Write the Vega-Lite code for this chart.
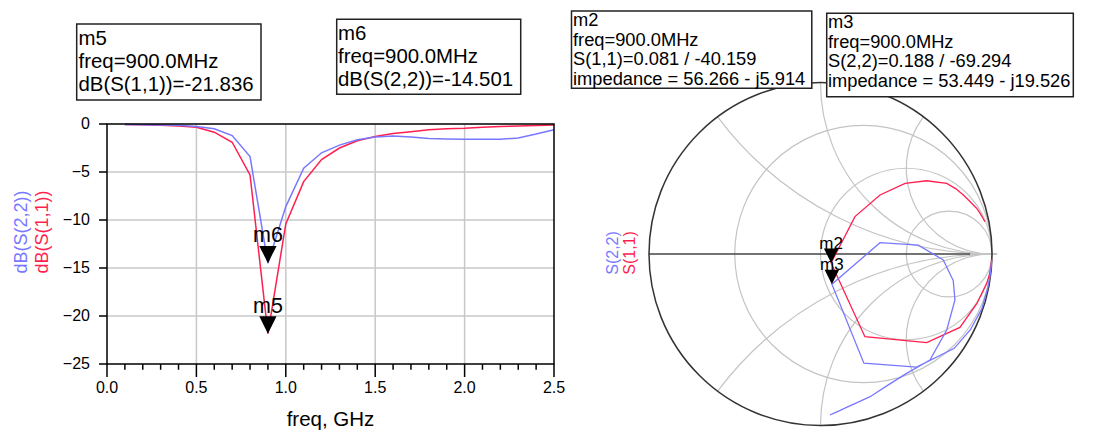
{
  "$schema": "https://vega.github.io/schema/vega-lite/v6.json",
  "width": 1103,
  "height": 433,
  "padding": 0,
  "autosize": {"type": "none"},
  "background": "white",
  "config": {"view": {"stroke": null}, "font": "Liberation Sans"},
  "datasets": {
    "traces": [
      {"t":"S11","f":0.1,"db":-0.05,"re":0.998,"im":-0.03},
      {"t":"S11","f":0.2,"db":-0.08,"re":0.994,"im":-0.07},
      {"t":"S11","f":0.3,"db":-0.12,"re":0.985,"im":-0.12},
      {"t":"S11","f":0.4,"db":-0.2,"re":0.969,"im":-0.171},
      {"t":"S11","f":0.5,"db":-0.35,"re":0.911,"im":-0.29},
      {"t":"S11","f":0.6,"db":-0.85,"re":0.813,"im":-0.428},
      {"t":"S11","f":0.7,"db":-1.9,"re":0.619,"im":-0.517},
      {"t":"S11","f":0.8,"db":-5.3,"re":0.259,"im":-0.482},
      {"t":"S11","f":0.9,"db":-21.836,"re":0.0619,"im":-0.0523},
      {"t":"S11","f":1.0,"db":-10.4,"re":0.201,"im":0.218},
      {"t":"S11","f":1.1,"db":-6.0,"re":0.347,"im":0.344},
      {"t":"S11","f":1.2,"db":-3.7,"re":0.493,"im":0.412},
      {"t":"S11","f":1.3,"db":-2.5,"re":0.619,"im":0.427},
      {"t":"S11","f":1.4,"db":-1.75,"re":0.736,"im":0.412},
      {"t":"S11","f":1.5,"db":-1.3,"re":0.79,"im":0.38},
      {"t":"S11","f":1.6,"db":-1.0,"re":0.833,"im":0.344},
      {"t":"S11","f":1.7,"db":-0.8,"re":0.86,"im":0.318},
      {"t":"S11","f":1.8,"db":-0.6,"re":0.88,"im":0.297},
      {"t":"S11","f":1.9,"db":-0.5,"re":0.897,"im":0.28},
      {"t":"S11","f":2.0,"db":-0.45,"re":0.911,"im":0.266},
      {"t":"S11","f":2.1,"db":-0.35,"re":0.925,"im":0.245},
      {"t":"S11","f":2.2,"db":-0.25,"re":0.938,"im":0.225},
      {"t":"S11","f":2.3,"db":-0.2,"re":0.948,"im":0.207},
      {"t":"S11","f":2.4,"db":-0.15,"re":0.955,"im":0.195},
      {"t":"S11","f":2.5,"db":-0.1,"re":0.959,"im":0.188},
      {"t":"S22","f":0.1,"db":-0.05,"re":0.998,"im":-0.04},
      {"t":"S22","f":0.2,"db":-0.07,"re":0.99,"im":-0.12},
      {"t":"S22","f":0.3,"db":-0.1,"re":0.975,"im":-0.2},
      {"t":"S22","f":0.4,"db":-0.12,"re":0.94,"im":-0.32},
      {"t":"S22","f":0.5,"db":-0.25,"re":0.875,"im":-0.44},
      {"t":"S22","f":0.6,"db":-0.5,"re":0.78,"im":-0.55},
      {"t":"S22","f":0.7,"db":-1.2,"re":0.56,"im":-0.66},
      {"t":"S22","f":0.8,"db":-3.4,"re":0.253,"im":-0.637},
      {"t":"S22","f":0.9,"db":-14.501,"re":0.0665,"im":-0.1759},
      {"t":"S22","f":1.0,"db":-8.6,"re":0.347,"im":0.066},
      {"t":"S22","f":1.1,"db":-4.6,"re":0.57,"im":0.052},
      {"t":"S22","f":1.2,"db":-3.0,"re":0.716,"im":-0.035},
      {"t":"S22","f":1.3,"db":-2.2,"re":0.774,"im":-0.155},
      {"t":"S22","f":1.4,"db":-1.65,"re":0.784,"im":-0.268},
      {"t":"S22","f":1.5,"db":-1.35,"re":0.736,"im":-0.443},
      {"t":"S22","f":1.6,"db":-1.25,"re":0.638,"im":-0.618},
      {"t":"S22","f":1.7,"db":-1.35,"re":0.502,"im":-0.696},
      {"t":"S22","f":1.8,"db":-1.5,"re":0.4,"im":-0.76},
      {"t":"S22","f":1.9,"db":-1.55,"re":0.289,"im":-0.832},
      {"t":"S22","f":2.0,"db":-1.6,"re":0.245,"im":-0.852},
      {"t":"S22","f":2.1,"db":-1.6,"re":0.2,"im":-0.872},
      {"t":"S22","f":2.2,"db":-1.6,"re":0.155,"im":-0.893},
      {"t":"S22","f":2.3,"db":-1.45,"re":0.115,"im":-0.912},
      {"t":"S22","f":2.4,"db":-1.05,"re":0.082,"im":-0.926},
      {"t":"S22","f":2.5,"db":-0.6,"re":0.055,"im":-0.939}
    ],
    "markers": [
      {"t":"S11","f":0.9,"db":-21.836,"re":0.0619,"im":-0.0523,"lab":"m5","slab":"m2"},
      {"t":"S22","f":0.9,"db":-14.501,"re":0.0665,"im":-0.1759,"lab":"m6","slab":"m3"}
    ],
    "gridx": [{"v":0.5},{"v":1.0},{"v":1.5},{"v":2.0}],
    "gridy": [{"v":-5},{"v":-10},{"v":-15},{"v":-20}],
    "xmajor": [{"v":0},{"v":0.5},{"v":1.0},{"v":1.5},{"v":2.0},{"v":2.5}],
    "xminor": [{"v":0.1},{"v":0.2},{"v":0.3},{"v":0.4},{"v":0.6},{"v":0.7},{"v":0.8},{"v":0.9},{"v":1.1},{"v":1.2},{"v":1.3},{"v":1.4},{"v":1.6},{"v":1.7},{"v":1.8},{"v":1.9},{"v":2.1},{"v":2.2},{"v":2.3},{"v":2.4}],
    "yticks": [{"v":-25},{"v":-20},{"v":-15},{"v":-10},{"v":-5},{"v":0}],
    "smithgrid": [
      {"cx":0.25,"cy":0,"rad":0.75,"t1":0,"t2":6.2832},
      {"cx":0.5,"cy":0,"rad":0.5,"t1":0,"t2":6.2832},
      {"cx":0.75,"cy":0,"rad":0.25,"t1":0,"t2":6.2832},
      {"cx":1,"cy":2,"rad":2,"t1":-3.1416,"t2":-2.2143},
      {"cx":1,"cy":1,"rad":1,"t1":-3.1416,"t2":-1.5708},
      {"cx":1,"cy":0.5,"rad":0.5,"t1":-3.1416,"t2":-0.9273},
      {"cx":1,"cy":-2,"rad":2,"t1":-0.9273,"t2":0},
      {"cx":1,"cy":-1,"rad":1,"t1":-1.5708,"t2":0},
      {"cx":1,"cy":-0.5,"rad":0.5,"t1":-2.2143,"t2":0}
    ],
    "outer": [{"cx":0,"cy":0,"rad":1,"t1":0,"t2":6.2832}]
  },
  "layer": [
    {
      "layer": [
        {
          "data": {"name": "gridx"},
          "mark": {"type": "rule", "color": "#c8c8c8", "strokeWidth": 1.5},
          "encoding": {
            "x": {"field": "v", "type": "quantitative", "scale": {"domain":[0,2.5],"range":[107,554],"nice":false,"zero":false}, "axis": null},
            "y": {"datum": -25, "scale": {"domain":[-25,0],"range":[364,124],"nice":false,"zero":false}, "axis": null},
            "y2": {"datum": 0}
          }
        },
        {
          "data": {"name": "gridy"},
          "mark": {"type": "rule", "color": "#c8c8c8", "strokeWidth": 1.5},
          "encoding": {
            "y": {"field": "v", "type": "quantitative", "scale": {"domain":[-25,0],"range":[364,124],"nice":false,"zero":false}, "axis": null},
            "x": {"datum": 0, "scale": {"domain":[0,2.5],"range":[107,554],"nice":false,"zero":false}, "axis": null},
            "x2": {"datum": 2.5}
          }
        },
        {
          "data": {"name": "xmajor"},
          "mark": {"type": "rule", "color": "black", "strokeWidth": 1.5},
          "encoding": {
            "x": {"field": "v", "type": "quantitative", "scale": {"domain":[0,2.5],"range":[107,554],"nice":false,"zero":false}, "axis": null},
            "y": {"datum": -25, "scale": {"domain":[-25,0],"range":[364,124],"nice":false,"zero":false}, "axis": null},
            "y2": {"datum": -26.354}
          }
        },
        {
          "data": {"name": "xminor"},
          "mark": {"type": "rule", "color": "black", "strokeWidth": 1.5},
          "encoding": {
            "x": {"field": "v", "type": "quantitative", "scale": {"domain":[0,2.5],"range":[107,554],"nice":false,"zero":false}, "axis": null},
            "y": {"datum": -25, "scale": {"domain":[-25,0],"range":[364,124],"nice":false,"zero":false}, "axis": null},
            "y2": {"datum": -25.6}
          }
        },
        {
          "data": {"name": "xmajor"},
          "mark": {"type": "text", "fontSize": 16, "color": "black", "align": "center", "baseline": "middle", "dy": 23.5},
          "encoding": {
            "x": {"field": "v", "type": "quantitative", "scale": {"domain":[0,2.5],"range":[107,554],"nice":false,"zero":false}, "axis": null},
            "y": {"datum": -25, "scale": {"domain":[-25,0],"range":[364,124],"nice":false,"zero":false}, "axis": null},
            "text": {"field": "v", "type": "quantitative", "format": ".1f"}
          }
        },
        {
          "data": {"name": "yticks"},
          "mark": {"type": "rule", "color": "black", "strokeWidth": 1.5},
          "encoding": {
            "y": {"field": "v", "type": "quantitative", "scale": {"domain":[-25,0],"range":[364,124],"nice":false,"zero":false}, "axis": null},
            "x": {"datum": 0, "scale": {"domain":[0,2.5],"range":[107,554],"nice":false,"zero":false}, "axis": null},
            "x2": {"datum": -0.0447}
          }
        },
        {
          "data": {"name": "yticks"},
          "mark": {"type": "text", "fontSize": 16, "color": "black", "align": "right", "baseline": "middle", "dx": -17},
          "encoding": {
            "y": {"field": "v", "type": "quantitative", "scale": {"domain":[-25,0],"range":[364,124],"nice":false,"zero":false}, "axis": null},
            "x": {"datum": 0, "scale": {"domain":[0,2.5],"range":[107,554],"nice":false,"zero":false}, "axis": null},
            "text": {"field": "v", "type": "quantitative", "format": "d"}
          }
        },
        {
          "data": {"values": [{}]},
          "mark": {"type": "text", "fontSize": 20.5, "color": "black", "align": "center", "baseline": "middle", "dy": 56},
          "encoding": {
            "x": {"datum": 1.25, "scale": {"domain":[0,2.5],"range":[107,554],"nice":false,"zero":false}, "axis": null},
            "y": {"datum": -25, "scale": {"domain":[-25,0],"range":[364,124],"nice":false,"zero":false}, "axis": null},
            "text": {"value": "freq, GHz"}
          }
        },
        {
          "data": {"name": "traces"},
          "mark": {"type": "line", "strokeWidth": 1.5},
          "encoding": {
            "x": {"field": "f", "type": "quantitative", "scale": {"domain":[0,2.5],"range":[107,554],"nice":false,"zero":false}, "axis": null},
            "y": {"field": "db", "type": "quantitative", "scale": {"domain":[-25,0],"range":[364,124],"nice":false,"zero":false}, "axis": null},
            "color": {"field": "t", "type": "nominal", "scale": {"domain":["S11","S22"],"range":["#ff1f4f","#7878ff"]}, "legend": null}
          }
        },
        {
          "data": {"values": [{}]},
          "mark": {"type": "rect", "fill": "transparent", "stroke": "black", "strokeWidth": 1.5},
          "encoding": {
            "x": {"datum": 0, "scale": {"domain":[0,2.5],"range":[107,554],"nice":false,"zero":false}, "axis": null},
            "x2": {"datum": 2.5},
            "y": {"datum": -25, "scale": {"domain":[-25,0],"range":[364,124],"nice":false,"zero":false}, "axis": null},
            "y2": {"datum": 0}
          }
        },
        {
          "data": {"name": "markers"},
          "mark": {"type": "point", "shape": "M-1,-2L1,-2L0,0Z", "size": 300, "filled": true, "color": "black", "opacity": 1},
          "encoding": {
            "x": {"field": "f", "type": "quantitative", "scale": {"domain":[0,2.5],"range":[107,554],"nice":false,"zero":false}, "axis": null},
            "y": {"field": "db", "type": "quantitative", "scale": {"domain":[-25,0],"range":[364,124],"nice":false,"zero":false}, "axis": null}
          }
        },
        {
          "data": {"name": "markers"},
          "mark": {"type": "text", "fontSize": 21.5, "color": "black", "align": "center", "baseline": "middle", "dy": -27},
          "encoding": {
            "x": {"field": "f", "type": "quantitative", "scale": {"domain":[0,2.5],"range":[107,554],"nice":false,"zero":false}, "axis": null},
            "y": {"field": "db", "type": "quantitative", "scale": {"domain":[-25,0],"range":[364,124],"nice":false,"zero":false}, "axis": null},
            "text": {"field": "lab"}
          }
        },
        {
          "data": {"values": [{}]},
          "mark": {"type": "rect", "fill": "white", "stroke": "#222222", "strokeWidth": 1.5},
          "encoding": {
            "x": {"datum": -0.1695, "scale": {"domain":[0,2.5],"range":[107,554],"nice":false,"zero":false}, "axis": null},
            "x2": {"datum": 0.8613},
            "y": {"datum": 10.417, "scale": {"domain":[-25,0],"range":[364,124],"nice":false,"zero":false}, "axis": null},
            "y2": {"datum": 2.5}
          }
        },
        {
          "data": {"values": [{}]},
          "mark": {"type": "text", "fontSize": 20.4, "color": "black", "align": "left", "baseline": "top", "lineHeight": 23},
          "encoding": {
            "x": {"datum": -0.1594, "scale": {"domain":[0,2.5],"range":[107,554],"nice":false,"zero":false}, "axis": null},
            "y": {"datum": 9.896, "scale": {"domain":[-25,0],"range":[364,124],"nice":false,"zero":false}, "axis": null},
            "text": {"value": ["m5", "freq=900.0MHz", "dB(S(1,1))=-21.836"]}
          }
        },
        {
          "data": {"values": [{}]},
          "mark": {"type": "rect", "fill": "white", "stroke": "#222222", "strokeWidth": 1.5},
          "encoding": {
            "x": {"datum": 1.2847, "scale": {"domain":[0,2.5],"range":[107,554],"nice":false,"zero":false}, "axis": null},
            "x2": {"datum": 2.3138},
            "y": {"datum": 10.906, "scale": {"domain":[-25,0],"range":[364,124],"nice":false,"zero":false}, "axis": null},
            "y2": {"datum": 3.094}
          }
        },
        {
          "data": {"values": [{}]},
          "mark": {"type": "text", "fontSize": 20.4, "color": "black", "align": "left", "baseline": "top", "lineHeight": 23},
          "encoding": {
            "x": {"datum": 1.2919, "scale": {"domain":[0,2.5],"range":[107,554],"nice":false,"zero":false}, "axis": null},
            "y": {"datum": 10.417, "scale": {"domain":[-25,0],"range":[364,124],"nice":false,"zero":false}, "axis": null},
            "text": {"value": ["m6", "freq=900.0MHz", "dB(S(2,2))=-14.501"]}
          }
        },
        {
          "data": {"values": [{}]},
          "mark": {"type": "text", "fontSize": 18, "color": "#7878ff", "align": "center", "baseline": "middle", "angle": 270},
          "encoding": {
            "x": {"datum": -0.4726, "scale": {"domain":[0,2.5],"range":[107,554],"nice":false,"zero":false}, "axis": null},
            "y": {"datum": -11.25, "scale": {"domain":[-25,0],"range":[364,124],"nice":false,"zero":false}, "axis": null},
            "text": {"value": "dB(S(2,2))"}
          }
        },
        {
          "data": {"values": [{}]},
          "mark": {"type": "text", "fontSize": 18, "color": "#ff1f4f", "align": "center", "baseline": "middle", "angle": 270},
          "encoding": {
            "x": {"datum": -0.358, "scale": {"domain":[0,2.5],"range":[107,554],"nice":false,"zero":false}, "axis": null},
            "y": {"datum": -11.25, "scale": {"domain":[-25,0],"range":[364,124],"nice":false,"zero":false}, "axis": null},
            "text": {"value": "dB(S(1,1))"}
          }
        }
      ]
    },
    {
      "layer": [
        {
          "data": {"name": "smithgrid"},
          "mark": {"type": "arc", "filled": false, "stroke": "#c4c4c4", "strokeWidth": 1.2},
          "encoding": {
            "x": {"field": "cx", "type": "quantitative", "scale": {"domain":[-1,1],"range":[649,992],"nice":false,"zero":false}, "axis": null},
            "y": {"field": "cy", "type": "quantitative", "scale": {"domain":[-1,1],"range":[425.5,82.5],"nice":false,"zero":false}, "axis": null},
            "theta": {"field": "t1", "type": "quantitative", "scale": null, "stack": null},
            "theta2": {"field": "t2"},
            "radius": {"field": "rad", "type": "quantitative", "scale": {"type":"linear","domain":[0,1],"range":[0,171.5],"zero":true,"nice":false}},
            "radius2": {"field": "rad"}
          }
        },
        {
          "data": {"values": [{}]},
          "mark": {"type": "rule", "color": "#c4c4c4", "strokeWidth": 2},
          "encoding": {
            "x": {"datum": 0.872, "scale": {"domain":[-1,1],"range":[649,992],"nice":false,"zero":false}, "axis": null},
            "x2": {"datum": 1.03},
            "y": {"datum": 0, "scale": {"domain":[-1,1],"range":[425.5,82.5],"nice":false,"zero":false}, "axis": null}
          }
        },
        {
          "data": {"values": [{}]},
          "mark": {"type": "rule", "color": "#444444", "strokeWidth": 1.5},
          "encoding": {
            "x": {"datum": -1, "scale": {"domain":[-1,1],"range":[649,992],"nice":false,"zero":false}, "axis": null},
            "x2": {"datum": 0.872},
            "y": {"datum": 0, "scale": {"domain":[-1,1],"range":[425.5,82.5],"nice":false,"zero":false}, "axis": null}
          }
        },
        {
          "data": {"name": "outer"},
          "mark": {"type": "arc", "filled": false, "stroke": "#333333", "strokeWidth": 1.5},
          "encoding": {
            "x": {"field": "cx", "type": "quantitative", "scale": {"domain":[-1,1],"range":[649,992],"nice":false,"zero":false}, "axis": null},
            "y": {"field": "cy", "type": "quantitative", "scale": {"domain":[-1,1],"range":[425.5,82.5],"nice":false,"zero":false}, "axis": null},
            "theta": {"field": "t1", "type": "quantitative", "scale": null, "stack": null},
            "theta2": {"field": "t2"},
            "radius": {"field": "rad", "type": "quantitative", "scale": {"type":"linear","domain":[0,1],"range":[0,171.5],"zero":true,"nice":false}},
            "radius2": {"field": "rad"}
          }
        },
        {
          "data": {"name": "traces"},
          "mark": {"type": "line", "strokeWidth": 1.3},
          "encoding": {
            "x": {"field": "re", "type": "quantitative", "scale": {"domain":[-1,1],"range":[649,992],"nice":false,"zero":false}, "axis": null},
            "y": {"field": "im", "type": "quantitative", "scale": {"domain":[-1,1],"range":[425.5,82.5],"nice":false,"zero":false}, "axis": null},
            "order": {"field": "f", "type": "quantitative"},
            "color": {"field": "t", "type": "nominal", "scale": {"domain":["S11","S22"],"range":["#ff1f4f","#7878ff"]}, "legend": null}
          }
        },
        {
          "data": {"name": "markers"},
          "mark": {"type": "point", "shape": "M-1,-2L1,-2L0,0Z", "size": 210, "filled": true, "color": "black", "opacity": 1},
          "encoding": {
            "x": {"field": "re", "type": "quantitative", "scale": {"domain":[-1,1],"range":[649,992],"nice":false,"zero":false}, "axis": null},
            "y": {"field": "im", "type": "quantitative", "scale": {"domain":[-1,1],"range":[425.5,82.5],"nice":false,"zero":false}, "axis": null}
          }
        },
        {
          "data": {"name": "markers"},
          "mark": {"type": "text", "fontSize": 17, "color": "black", "align": "center", "baseline": "middle", "dy": -19},
          "encoding": {
            "x": {"field": "re", "type": "quantitative", "scale": {"domain":[-1,1],"range":[649,992],"nice":false,"zero":false}, "axis": null},
            "y": {"field": "im", "type": "quantitative", "scale": {"domain":[-1,1],"range":[425.5,82.5],"nice":false,"zero":false}, "axis": null},
            "text": {"field": "slab"}
          }
        },
        {
          "data": {"values": [{}]},
          "mark": {"type": "rect", "fill": "white", "stroke": "#222222", "strokeWidth": 1.5},
          "encoding": {
            "x": {"datum": -1.4519, "scale": {"domain":[-1,1],"range":[649,992],"nice":false,"zero":false}, "axis": null},
            "x2": {"datum": -0.0508},
            "y": {"datum": 1.4169, "scale": {"domain":[-1,1],"range":[425.5,82.5],"nice":false,"zero":false}, "axis": null},
            "y2": {"datum": 0.9662}
          }
        },
        {
          "data": {"values": [{}]},
          "mark": {"type": "text", "fontSize": 18.3, "color": "black", "align": "left", "baseline": "top", "lineHeight": 19.5},
          "encoding": {
            "x": {"datum": -1.4431, "scale": {"domain":[-1,1],"range":[649,992],"nice":false,"zero":false}, "axis": null},
            "y": {"datum": 1.4082, "scale": {"domain":[-1,1],"range":[425.5,82.5],"nice":false,"zero":false}, "axis": null},
            "text": {"value": ["m2", "freq=900.0MHz", "S(1,1)=0.081 / -40.159", "impedance = 56.266 - j5.914"]}
          }
        },
        {
          "data": {"values": [{}]},
          "mark": {"type": "rect", "fill": "white", "stroke": "#222222", "strokeWidth": 1.5},
          "encoding": {
            "x": {"datum": 0.0362, "scale": {"domain":[-1,1],"range":[649,992],"nice":false,"zero":false}, "axis": null},
            "x2": {"datum": 1.4741},
            "y": {"datum": 1.4035, "scale": {"domain":[-1,1],"range":[425.5,82.5],"nice":false,"zero":false}, "axis": null},
            "y2": {"datum": 0.9172}
          }
        },
        {
          "data": {"values": [{}]},
          "mark": {"type": "text", "fontSize": 18.3, "color": "black", "align": "left", "baseline": "top", "lineHeight": 19.5},
          "encoding": {
            "x": {"datum": 0.0437, "scale": {"domain":[-1,1],"range":[649,992],"nice":false,"zero":false}, "axis": null},
            "y": {"datum": 1.3977, "scale": {"domain":[-1,1],"range":[425.5,82.5],"nice":false,"zero":false}, "axis": null},
            "text": {"value": ["m3", "freq=900.0MHz", "S(2,2)=0.188 / -69.294", "impedance = 53.449 - j19.526"]}
          }
        },
        {
          "data": {"values": [{}]},
          "mark": {"type": "text", "fontSize": 16, "color": "#7878ff", "align": "center", "baseline": "middle", "angle": 270},
          "encoding": {
            "x": {"datum": -1.2099, "scale": {"domain":[-1,1],"range":[649,992],"nice":false,"zero":false}, "axis": null},
            "y": {"datum": 0.006, "scale": {"domain":[-1,1],"range":[425.5,82.5],"nice":false,"zero":false}, "axis": null},
            "text": {"value": "S(2,2)"}
          }
        },
        {
          "data": {"values": [{}]},
          "mark": {"type": "text", "fontSize": 16, "color": "#ff1f4f", "align": "center", "baseline": "middle", "angle": 270},
          "encoding": {
            "x": {"datum": -1.1108, "scale": {"domain":[-1,1],"range":[649,992],"nice":false,"zero":false}, "axis": null},
            "y": {"datum": 0.006, "scale": {"domain":[-1,1],"range":[425.5,82.5],"nice":false,"zero":false}, "axis": null},
            "text": {"value": "S(1,1)"}
          }
        }
      ]
    }
  ],
  "resolve": {"scale": {"x": "independent", "y": "independent"}}
}
